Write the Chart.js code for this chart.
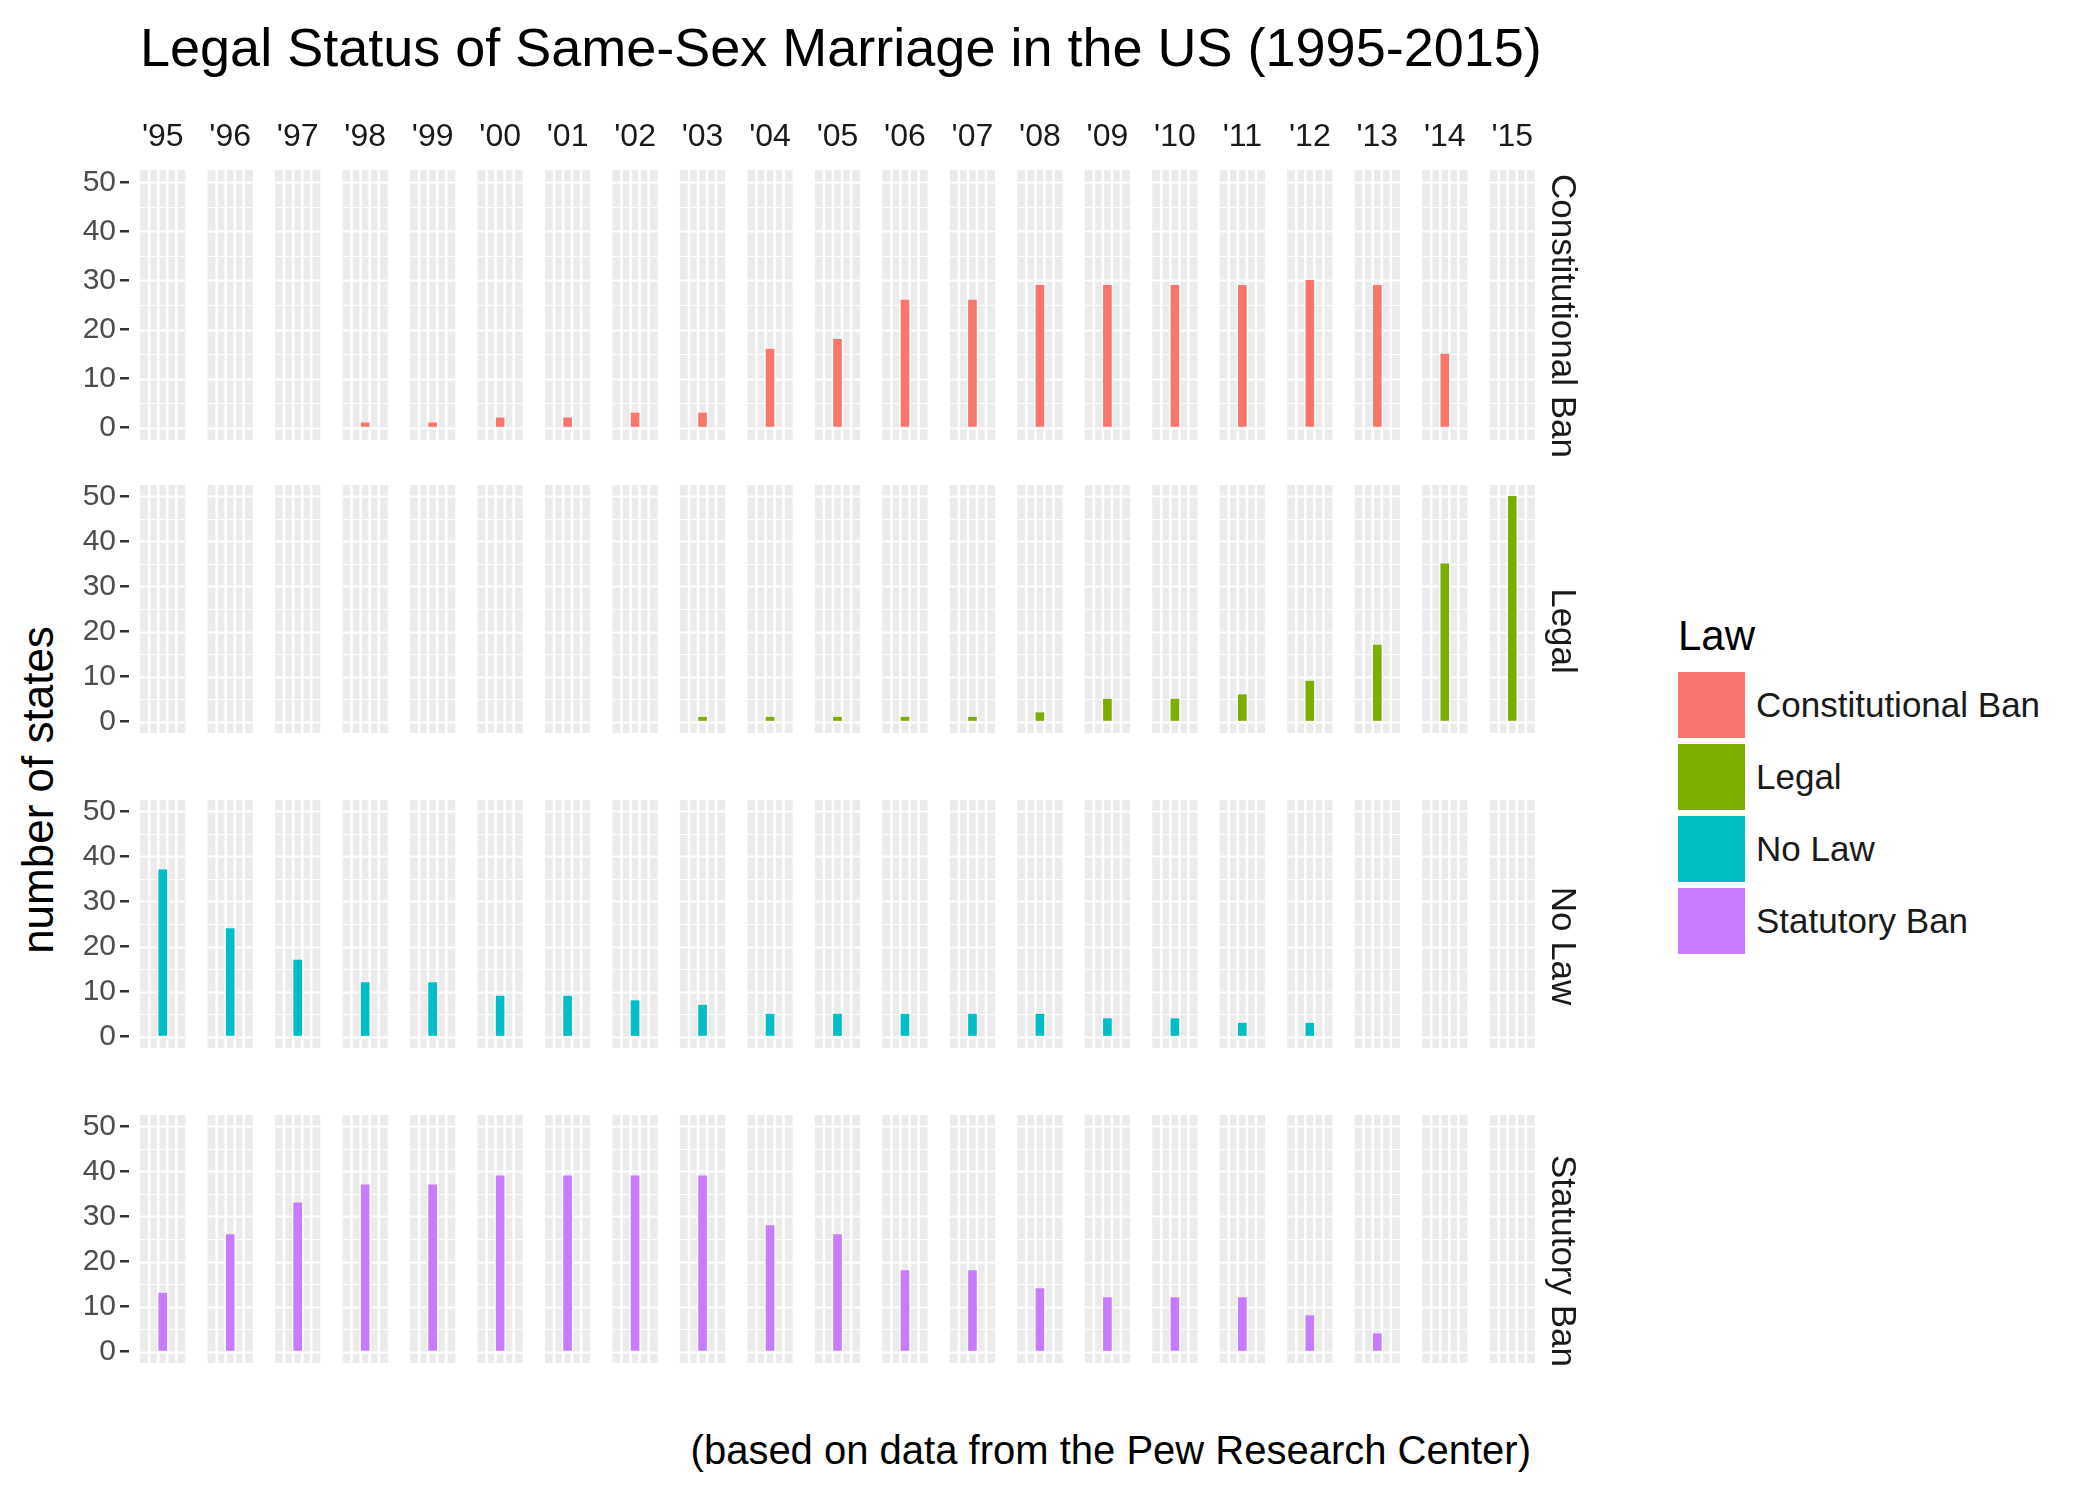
<!DOCTYPE html>
<html>
<head>
<meta charset="utf-8">
<script src="https://cdn.jsdelivr.net/npm/chart.js@4/dist/chart.umd.min.js"></script>
<style>
  body { margin: 0; width: 2099px; height: 1499px; background: #fff; position: relative; font-family: "Liberation Sans", Arial, sans-serif; overflow: hidden; }
  .abs { position: absolute; }
  canvas { position: absolute; left: 0; }
  .strip { position: absolute; font-size: 35px; color: #1a1a1a; transform: translate(-50%, -50%) rotate(90deg); white-space: nowrap; }
  .key { position: absolute; left: 1678px; width: 67px; height: 66px; }
  .keytxt { position: absolute; left: 1756px; font-size: 35px; color: #1a1a1a; transform: translateY(-50%); }
</style>
</head>
<body>
<div class="abs" style="left:140px;top:16px;font-size:54px;color:#000">Legal Status of Same-Sex Marriage in the US (1995-2015)</div>
<div class="abs" style="left:38px;top:790px;font-size:44px;color:#000;transform:translate(-50%,-50%) rotate(-90deg);white-space:nowrap">number of states</div>
<div class="abs" style="right:568px;top:1428px;font-size:40px;color:#000">(based on data from the Pew Research Center)</div>
<div class="abs" style="left:1678px;top:612px;font-size:42px;color:#000">Law</div>
<div id="legend"></div>
<div id="charts"></div>
<script>
'use strict';

// ── data (states per year, by law type) ──
const years = ["'95","'96","'97","'98","'99","'00","'01","'02","'03","'04","'05","'06","'07","'08","'09","'10","'11","'12","'13","'14","'15"];
const laws = ['Constitutional Ban', 'Legal', 'No Law', 'Statutory Ban'];
const lawColors = ['#F8766D', '#7CAE00', '#00BFC4', '#C77CFF'];
const constitutionalBan = [0,0,0,1,1,2,2,3,3,16,18,26,26,29,29,29,29,30,29,15,0];
const legal             = [0,0,0,0,0,0,0,0,1,1,1,1,1,2,5,5,6,9,17,35,50];
const noLaw             = [37,24,17,12,12,9,9,8,7,5,5,5,5,5,4,4,3,3,0,0,0];
const statutoryBan      = [13,26,33,37,37,39,39,39,39,28,26,18,18,14,12,12,12,8,4,0,0];
const yTicks = [0,10,20,30,40,50];

const series = [constitutionalBan, legal, noLaw, statutoryBan];

// ── layout ──
const PANEL_TOP = 170, ROW_PITCH = 315, ROW_H = 292, TOP_AXIS_H = 56;
const CANVAS_W = 1546, Y_AXIS_W = 129, PANEL_FRAC = 0.67;

// gray facet panels with ggplot-ish white grid
const panelPlugin = {
  id: 'panels',
  beforeDatasetsDraw(chart) {
    const { ctx, chartArea: a, scales: { x, y } } = chart;
    const step = (a.right - a.left) / years.length;
    const w = step * PANEL_FRAC;
    ctx.save();
    years.forEach((_, i) => {
      const cx = x.getPixelForValue(i);
      const l = cx - w / 2;
      ctx.fillStyle = '#ebebeb';
      ctx.fillRect(l, a.top, w, a.bottom - a.top);
      ctx.strokeStyle = '#ffffff';
      for (let v = 0; v <= 50; v += 5) {
        ctx.lineWidth = v % 10 === 0 ? 2 : 1;
        const py = Math.round(y.getPixelForValue(v)) + 0.5;
        ctx.beginPath(); ctx.moveTo(l, py); ctx.lineTo(l + w, py); ctx.stroke();
      }
      ctx.lineWidth = 2.5;
      for (let k = 1; k < 5; k++) {
        const px = l + w * k / 5;
        ctx.beginPath(); ctx.moveTo(px, a.top); ctx.lineTo(px, a.bottom); ctx.stroke();
      }
    });
    ctx.restore();
  }
};

function makeRow(r) {
  const first = r === 0;
  const cv = document.createElement('canvas');
  let h = ROW_H + (first ? TOP_AXIS_H : 0);
  cv.width = CANVAS_W; cv.height = h;
  document.getElementById('charts').appendChild(cv);

  const chart = new Chart(cv.getContext('2d'), {
    type: 'bar',
    data: {
      labels: years,
      // zero counts draw nothing, like the original
      datasets: [{ data: series[r].map(v => v === 0 ? null : v), backgroundColor: lawColors[r], barThickness: 8, borderWidth: 0 }]
    },
    options: {
      responsive: false,
      devicePixelRatio: 1,
      animation: false,
      layout: { padding: 0 },
      plugins: { legend: { display: false }, tooltip: { enabled: false } },
      scales: {
        x: {
          display: first,
          position: 'top',
          grid: { display: false },
          border: { display: false },
          ticks: { color: '#1a1a1a', font: { size: 32, family: 'Liberation Sans' }, maxRotation: 0, autoSkip: false, padding: 6 },
          afterFit(s) { if (first) s.height = TOP_AXIS_H; }
        },
        y: {
          min: -2.5, max: 52.5,
          afterBuildTicks(s) { s.ticks = yTicks.map(v => ({ value: v })); },
          grid: { drawOnChartArea: false, drawTicks: true, tickLength: 9, tickColor: '#333333', lineWidth: 2.5 },
          border: { display: false },
          ticks: { color: '#4d4d4d', font: { size: 30, family: 'Liberation Sans' }, padding: 4 },
          afterFit(s) { s.width = Y_AXIS_W; }
        }
      }
    },
    plugins: [panelPlugin]
  });

  // stretch the canvas so the plot area is exactly ROW_H tall, then place it
  const areaH = chart.chartArea.bottom - chart.chartArea.top;
  h += ROW_H - areaH;
  chart.resize(CANVAS_W, h);
  cv.style.top = (PANEL_TOP + r * ROW_PITCH - chart.chartArea.top) + 'px';

  const strip = document.createElement('div');
  strip.className = 'strip';
  strip.textContent = laws[r];
  strip.style.left = '1564px';
  strip.style.top = (PANEL_TOP + r * ROW_PITCH + ROW_H / 2) + 'px';
  document.body.appendChild(strip);
}

laws.forEach((_, r) => makeRow(r));

// legend
const leg = document.getElementById('legend');
laws.forEach((name, i) => {
  const top = 672 + i * 72;
  leg.insertAdjacentHTML('beforeend',
    `<div class="key" style="top:${top}px;background:${lawColors[i]}"></div>` +
    `<div class="keytxt" style="top:${top + 33}px">${name}</div>`);
});
</script>
</body>
</html>
